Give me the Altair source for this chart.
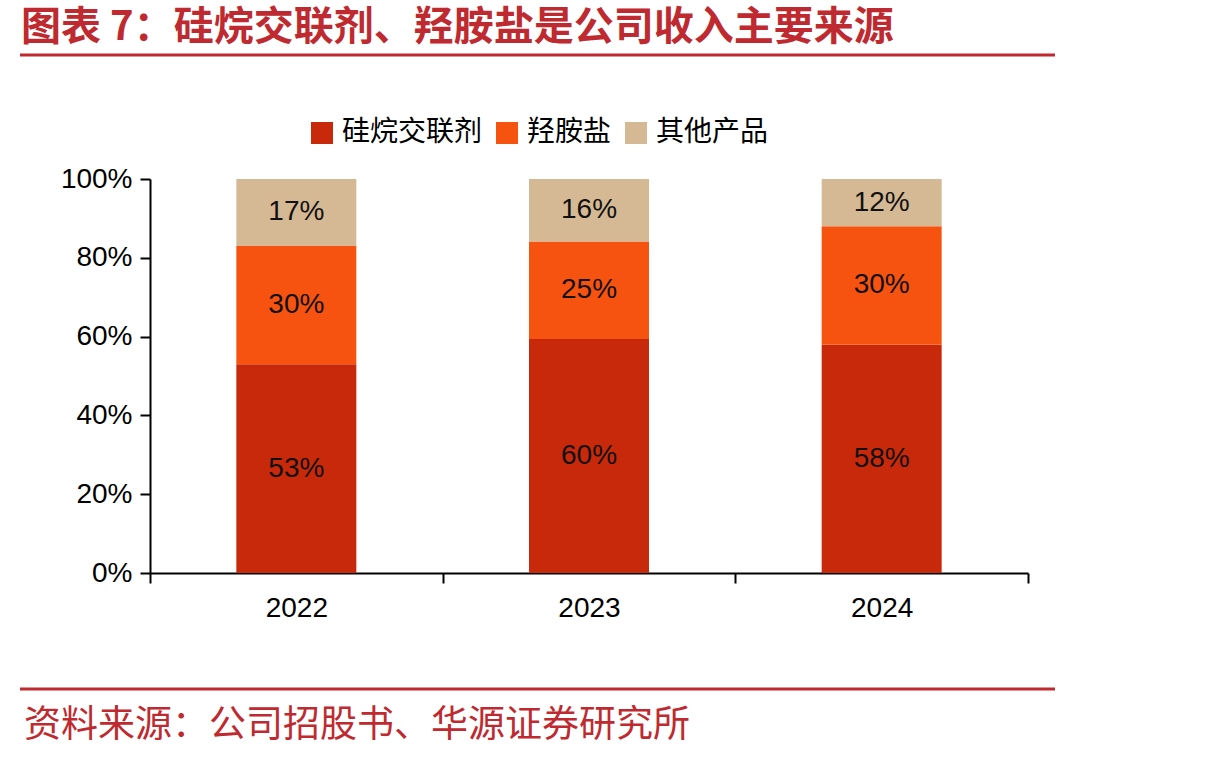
import altair as alt
import pandas as pd

years = ["2022", "2023", "2024"]
categories = ["硅烷交联剂", "羟胺盐", "其他产品"]
silane = [53, 60, 58]
hydroxylamine = [30, 25, 30]
others = [17, 16, 12]
colors = ["#C8290A", "#F75310", "#D5B994"]
title_text = "图表 7：硅烷交联剂、羟胺盐是公司收入主要来源"
source_text = "资料来源：公司招股书、华源证券研究所"
y_ticks = [0, 0.2, 0.4, 0.6, 0.8, 1.0]

RED = "#BF2A30"

rows = []
for i, yr in enumerate(years):
    for j, (cat, vals) in enumerate(zip(categories, [silane, hydroxylamine, others])):
        rows.append({"year": yr, "cat": cat, "idx": j, "value": vals[i], "label": f"{vals[i]}%"})
df = pd.DataFrame(rows)

W, H = 878, 394

base = alt.Chart(df).transform_stack(
    stack="value",
    groupby=["year"],
    as_=["y0", "y1"],
    sort=[alt.SortField("idx", order="ascending")],
    offset="normalize",
).transform_calculate(ym="(datum.y0 + datum.y1) / 2")

x_enc = alt.X(
    "year:N",
    sort=years,
    scale=alt.Scale(paddingInner=0, paddingOuter=0),
    axis=alt.Axis(
        title=None,
        labelAngle=0,
        tickBand="extent",
        labelPadding=11,
        labelFontSize=28,
    ),
)

bars = base.mark_bar(width=alt.RelativeBandSize(0.41)).encode(
    x=x_enc,
    y=alt.Y(
        "y0:Q",
        scale=alt.Scale(domain=[0, 1], nice=False),
        axis=alt.Axis(
            title=None,
            format=".0%",
            values=y_ticks,
            grid=False,
            labelPadding=8,
            labelFontSize=28,
        ),
    ),
    y2="y1:Q",
    color=alt.Color(
        "cat:N",
        scale=alt.Scale(domain=categories, range=colors),
        legend=alt.Legend(
            orient="none",
            legendX=158,
            legendY=-60,
            direction="horizontal",
            title=None,
            symbolType="square",
            symbolSize=484,
            symbolStrokeWidth=0,
            labelFontSize=28,
            labelFont="Noto Sans CJK SC",
            labelColor="#000000",
            labelOffset=6,
            columnPadding=10,
        ),
    ),
)

labels = base.mark_text(
    font="Liberation Sans", fontSize=28, color="#111111", baseline="middle", align="center"
).encode(
    x=alt.X("year:N", sort=years),
    y=alt.Y("ym:Q"),
    text="label:N",
)

one = pd.DataFrame({"t": [title_text], "s": [source_text]})

title = alt.Chart(one).mark_text(
    font="Noto Sans CJK SC", fontSize=40, fontWeight="bold", color=RED, align="left", baseline="middle"
).encode(text="t:N", x=alt.value(-129), y=alt.value(-151))

source = alt.Chart(one).mark_text(
    font="Noto Sans CJK SC", fontSize=37, color=RED, align="left", baseline="middle"
).encode(text="s:N", x=alt.value(-126), y=alt.value(547))

rule_top = alt.Chart(one).mark_rule(color=RED, strokeWidth=3).encode(
    x=alt.value(-130), x2=alt.value(905), y=alt.value(-124)
)
rule_bottom = alt.Chart(one).mark_rule(color=RED, strokeWidth=3).encode(
    x=alt.value(-130), x2=alt.value(905), y=alt.value(510)
)

chart = alt.layer(bars, labels, title, source, rule_top, rule_bottom).properties(
    width=W,
    height=H,
    autosize=alt.AutoSizeParams(type="none"),
    padding={"left": 150, "top": 179, "right": 182, "bottom": 187},
).configure_view(strokeWidth=0).configure_axis(
    domainColor="#000000",
    domainWidth=2,
    tickColor="#000000",
    tickWidth=2,
    tickSize=10,
    labelFont="Liberation Sans",
    labelColor="#000000",
)

chart.save("out.html", embed_options={"renderer": "svg", "actions": False})
